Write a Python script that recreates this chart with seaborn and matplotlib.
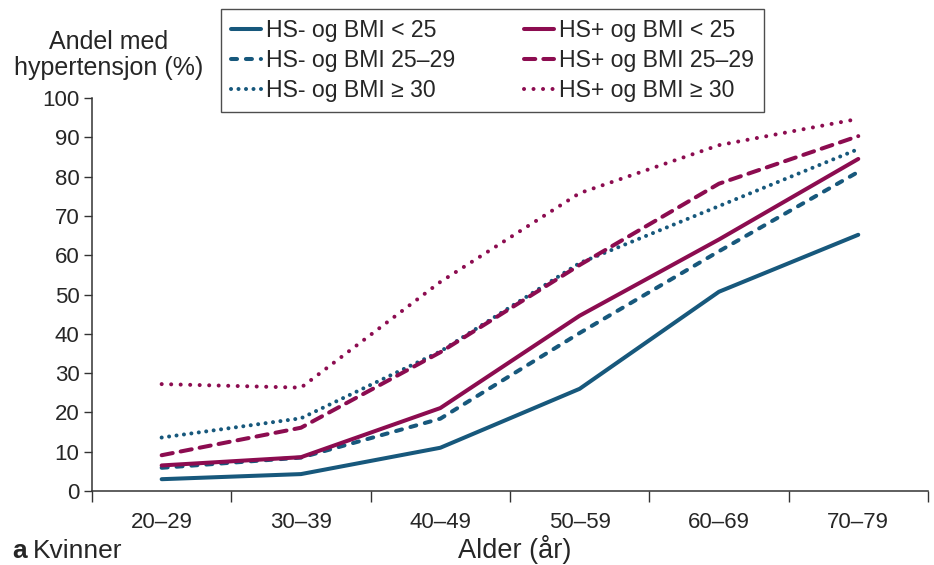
import matplotlib
matplotlib.use("Agg")
import matplotlib.pyplot as plt
import seaborn as sns
import pandas as pd

# data
age_groups = ["20–29", "30–39", "40–49", "50–59", "60–69", "70–79"]
hs_minus_bmi_lt25 = [3.0, 4.3, 11.0, 26.0, 50.7, 65.2]
hs_minus_bmi_25_29 = [5.9, 8.5, 18.4, 40.2, 61.0, 81.2]
hs_minus_bmi_ge30 = [13.6, 18.5, 35.5, 58.0, 72.5, 87.0]
hs_plus_bmi_lt25 = [6.5, 8.6, 21.1, 44.6, 64.0, 84.5]
hs_plus_bmi_25_29 = [9.1, 16.1, 35.3, 57.5, 78.2, 90.3]
hs_plus_bmi_ge30 = [27.2, 26.3, 53.2, 75.8, 88.0, 94.7]

series_labels = ["HS- og BMI < 25", "HS- og BMI 25–29", "HS- og BMI ≥ 30",
                 "HS+ og BMI < 25", "HS+ og BMI 25–29", "HS+ og BMI ≥ 30"]
series_values = [hs_minus_bmi_lt25, hs_minus_bmi_25_29, hs_minus_bmi_ge30,
                 hs_plus_bmi_lt25, hs_plus_bmi_25_29, hs_plus_bmi_ge30]

blue = "#17587c"
red = "#8c0c50"
palette = dict(zip(series_labels, [blue, blue, blue, red, red, red]))
# dash patterns in linewidth units (round caps add one linewidth to each dash)
dashes = dict(zip(series_labels, ["", (1.5, 2.2), (0.01, 1.85),
                                  "", (2.8, 2.0), (0.01, 2.35)]))

rows = []
for label, values in zip(series_labels, series_values):
    for age, v in zip(age_groups, values):
        rows.append({"Alder": age, "Andel": v, "Serie": label})
df = pd.DataFrame(rows)

sns.set_style("ticks")
plt.rcParams["font.family"] = ["Liberation Sans", "DejaVu Sans"]
plt.rcParams["lines.dash_capstyle"] = "round"

fig = plt.figure(figsize=(9.34, 5.65), dpi=100)
ax = fig.add_axes([0.0985, 0.131, 0.895, 0.6955])

sns.lineplot(data=df, x="Alder", y="Andel", hue="Serie", style="Serie",
             palette=palette, dashes=dashes, hue_order=series_labels,
             style_order=series_labels, linewidth=2.9, ax=ax, legend=True)

ax.set_xlim(-0.5, 5.5)
ax.set_ylim(0, 100)
ax.set_yticks(range(0, 101, 10))
ax.set_xticks(range(6))
ax.set_xticklabels(age_groups)
ax.set_xticks([i - 0.5 for i in range(7)], minor=True)
ax.tick_params(axis="x", which="major", length=0, pad=15, labelsize=16)
ax.tick_params(axis="x", which="minor", length=8, width=1, color="#333333")
ax.tick_params(axis="y", length=6, width=1, color="#333333", labelsize=16, pad=3)
sns.despine(ax=ax)
for side in ["left", "bottom"]:
    ax.spines[side].set_color("#333333")
    ax.spines[side].set_linewidth(1.1)

ax.set_xlabel("")
ax.set_ylabel("")
fig.text(0.551, 0.012, "Alder (år)", fontsize=19.5, ha="center", va="baseline")
fig.text(0.116, 0.903, "Andel med\nhypertensjon (%)", ha="center", va="center",
         fontsize=18, linespacing=1.1)
fig.text(0.013, 0.012, "a", fontsize=19, fontweight="bold", ha="left", va="baseline")
fig.text(0.035, 0.012, "Kvinner", fontsize=19, ha="left", va="baseline")

handles, labels = ax.get_legend_handles_labels()
leg = ax.legend(handles, labels, ncol=2, loc="upper left",
                bbox_to_anchor=(0.154, 1.227), frameon=True, fancybox=False,
                fontsize=16.6, handlelength=1.3, handletextpad=0.2,
                columnspacing=3.0, labelspacing=0.3, borderpad=0.45,
                borderaxespad=0)
leg.get_frame().set_edgecolor("#222222")
leg.get_frame().set_linewidth(1.0)

fig.savefig("out.png", dpi=100)
